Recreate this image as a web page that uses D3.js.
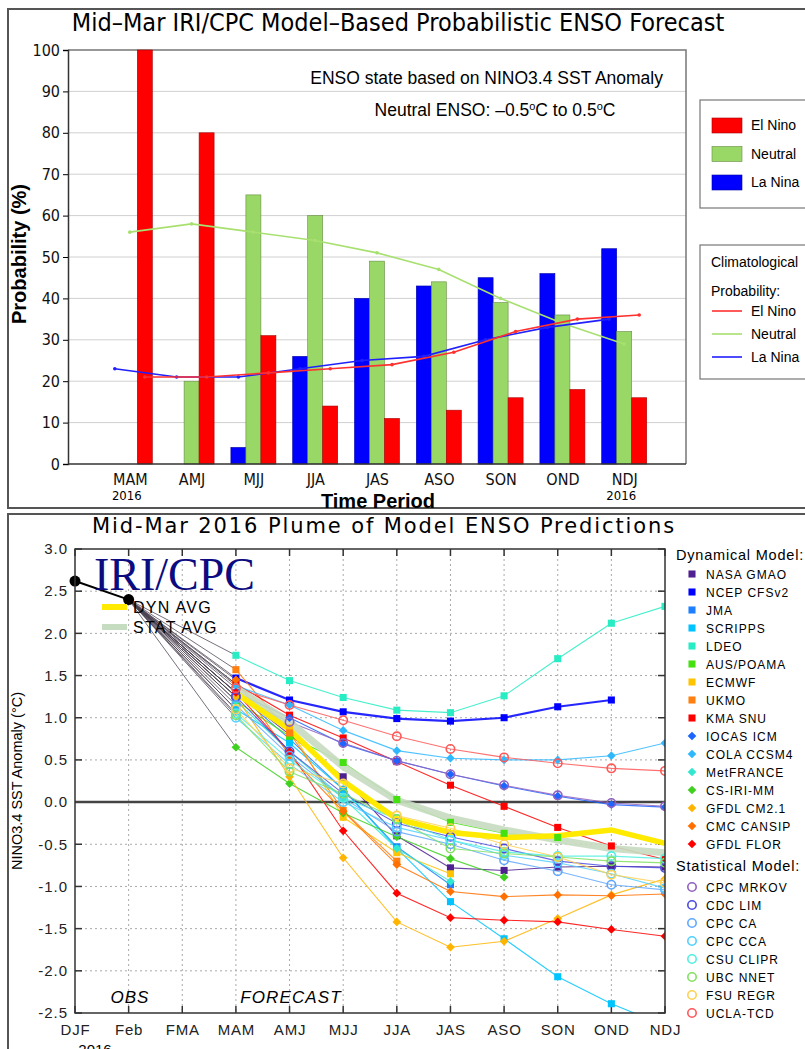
<!DOCTYPE html>
<html>
<head>
<meta charset="utf-8">
<script src="https://cdn.jsdelivr.net/npm/d3@7"></script>
<style>
body { margin: 0; background: #fff; }
svg { display: block; }
</style>
</head>
<body>
<div id="chart"></div>
<script>
// ---------- top panel: probabilistic forecast ----------
var periods = ["MAM", "AMJ", "MJJ", "JJA", "JAS", "ASO", "SON", "OND", "NDJ"];
var elNino  = [100, 80, 31, 14, 11, 13, 16, 18, 16];
var neutral = [0, 20, 65, 60, 49, 44, 39, 36, 32];
var laNina  = [0, 0, 4, 26, 40, 43, 45, 46, 52];
var climElNino  = [21, 21, 22, 23, 24, 27, 32, 35, 36];
var climNeutral = [56, 58, 56, 54, 51, 47, 40, 34, 29];
var climLaNina  = [23, 21, 21, 23, 25, 26, 30, 33, 35];
var probTicks = [0, 10, 20, 30, 40, 50, 60, 70, 80, 90, 100];

// ---------- bottom panel: plume ----------
var seasons = ["DJF", "Feb", "FMA", "MAM", "AMJ", "MJJ", "JJA", "JAS", "ASO", "SON", "OND", "NDJ"];
var anomTicks = [-2.5, -2.0, -1.5, -1.0, -0.5, 0.0, 0.5, 1.0, 1.5, 2.0, 2.5, 3.0];
var obsValues = [2.62, 2.40];          // DJF, Feb
var dynAvg  = [1.29, 0.86, 0.25, -0.20, -0.36, -0.42, -0.40, -0.33, -0.49];
var statAvg = [1.35, 0.95, 0.42, 0.02, -0.19, -0.33, -0.45, -0.55, -0.60];

// dynamical models, values from MAM onward
var nasaGmao   = [1.30, 0.80, 0.30, -0.40, -0.78, -0.81, -0.77, -0.76, -0.77];
var ncepCfsv2  = [1.47, 1.21, 1.07, 0.99, 0.96, 1.00, 1.13, 1.21];
var jma        = [1.30, 0.75, 0.15, -0.53, -0.98];
var scripps    = [1.10, 0.70, 0.15, -0.55, -1.18, -1.62, -2.07, -2.39, -2.65];
var ldeo       = [1.74, 1.44, 1.24, 1.09, 1.06, 1.26, 1.70, 2.12, 2.32];
var ausPoama   = [1.20, 0.78, 0.47, 0.03, -0.24, -0.37, -0.42];
var ecmwf      = [1.40, 0.88, -0.18, -0.60, -0.85];
var ukmo       = [1.57, 0.82, -0.10, -0.70];
var kmaSnu     = [1.40, 1.03, 0.76, 0.48, 0.20, -0.05, -0.30, -0.52, -0.68];
var iocasIcm   = [1.30, 1.00, 0.69, 0.49, 0.33, 0.19, 0.07, -0.03, -0.06];
var colaCcsm4  = [1.38, 1.15, 0.85, 0.61, 0.52, 0.50, 0.50, 0.55, 0.70];
var metFrance  = [1.20, 0.60, 0.05, -0.55, -0.94];
var csIriMm    = [0.65, 0.22, -0.13, -0.41, -0.67, -0.89];
var gfdlCm21   = [1.25, 0.30, -0.66, -1.42, -1.72, -1.65, -1.38, -1.10, -0.91];
var cmcCansip  = [1.45, 0.55, -0.11, -0.74, -1.06, -1.12, -1.10, -1.11, -1.09];
var gfdlFlor   = [1.30, 0.60, -0.34, -1.08, -1.37, -1.40, -1.42, -1.51, -1.59];
// statistical models
var cpcMrkov   = [1.25, 0.95, 0.70, 0.49, 0.33, 0.20, 0.08, -0.01, -0.05];
var cdcLim     = [1.25, 0.60, 0.10, -0.25, -0.41, -0.55, -0.70, -0.76, -0.78];
var cpcCa      = [1.15, 0.55, 0.05, -0.35, -0.50, -0.69, -0.82, -0.98, -1.04];
var cpcCca     = [1.00, 0.45, 0.00, -0.30, -0.45, -0.63, -0.72, -0.85, -1.02];
var csuClipr   = [1.05, 0.50, 0.05, -0.20, -0.45, -0.59, -0.64, -0.64, -0.67];
var ubcNnet    = [1.03, 0.36, 0.10, -0.20, -0.55, -0.61, -0.65, -0.70, -0.72];
var fsuRegr    = [1.10, 0.40, 0.22, -0.16, -0.31, -0.50, -0.65, -0.86, -0.96];
var uclaTcd    = [1.35, 1.15, 0.97, 0.78, 0.63, 0.53, 0.46, 0.40, 0.37];

var dynModels = [
    {name: "NASA GMAO",  values: nasaGmao,  color: "#4f2090", shape: "square"},
    {name: "NCEP CFSv2", values: ncepCfsv2, color: "#0000ff", shape: "square", width: 2.2},
    {name: "JMA",        values: jma,       color: "#1e80ff", shape: "square"},
    {name: "SCRIPPS",    values: scripps,   color: "#00c4ff", shape: "square"},
    {name: "LDEO",       values: ldeo,      color: "#28ecc4", shape: "square"},
    {name: "AUS/POAMA",  values: ausPoama,  color: "#44e010", shape: "square"},
    {name: "ECMWF",      values: ecmwf,     color: "#ffc400", shape: "square"},
    {name: "UKMO",       values: ukmo,      color: "#ff7f10", shape: "square"},
    {name: "KMA SNU",    values: kmaSnu,    color: "#ff0000", shape: "square"},
    {name: "IOCAS ICM",  values: iocasIcm,  color: "#1e64ff", shape: "diamond"},
    {name: "COLA CCSM4", values: colaCcsm4, color: "#30b8ff", shape: "diamond"},
    {name: "MetFRANCE",  values: metFrance, color: "#30e8d0", shape: "diamond"},
    {name: "CS-IRI-MM",  values: csIriMm,   color: "#40d020", shape: "diamond"},
    {name: "GFDL CM2.1", values: gfdlCm21,  color: "#ffb400", shape: "diamond"},
    {name: "CMC CANSIP", values: cmcCansip, color: "#ff7000", shape: "diamond"},
    {name: "GFDL FLOR",  values: gfdlFlor,  color: "#ff0000", shape: "diamond"}
];
var statModels = [
    {name: "CPC MRKOV", values: cpcMrkov, color: "#9060c0", shape: "circle"},
    {name: "CDC LIM",   values: cdcLim,   color: "#4c4ce0", shape: "circle"},
    {name: "CPC CA",    values: cpcCa,    color: "#60a8ff", shape: "circle"},
    {name: "CPC CCA",   values: cpcCca,   color: "#50d0ff", shape: "circle"},
    {name: "CSU CLIPR", values: csuClipr, color: "#50f0e0", shape: "circle"},
    {name: "UBC NNET",  values: ubcNnet,  color: "#80e060", shape: "circle"},
    {name: "FSU REGR",  values: fsuRegr,  color: "#ffd050", shape: "circle"},
    {name: "UCLA-TCD",  values: uclaTcd,  color: "#ff5858", shape: "circle"}
];

var svg = d3.select("#chart").append("svg")
    .attr("width", 805)
    .attr("height", 1049);

var narrow = "'Liberation Sans Narrow', 'DejaVu Sans Condensed', sans-serif";
var sans = "'Liberation Sans', Arial, sans-serif";

// ================= TOP PANEL =================
svg.append("rect")
    .attr("x", 8).attr("y", 9).attr("width", 810).attr("height", 499)
    .attr("fill", "none").attr("stroke", "#555").attr("stroke-width", 2);

svg.append("text")
    .attr("x", 398).attr("y", 31)
    .attr("text-anchor", "middle")
    .style("font-family", narrow).style("font-size", "25px")
    .text("Mid\u2013Mar IRI/CPC Model\u2013Based Probabilistic ENSO Forecast");

var x = d3.scaleLinear().domain([-1, 9]).range([68, 686]);
var y = d3.scaleLinear().domain([0, 100]).range([464, 50]);
var barW = 15;

var topG = svg.append("g");

// gridlines
topG.append("g").selectAll("line")
    .data(probTicks.slice(1, -1))
    .enter().append("line")
    .attr("x1", 68).attr("x2", 686)
    .attr("y1", function(d) { return y(d); })
    .attr("y2", function(d) { return y(d); })
    .attr("stroke", "#d0d0d0").attr("stroke-width", 1);

// frame top / right
topG.append("path")
    .attr("d", "M68," + y(100) + "H686V" + y(0))
    .attr("fill", "none").attr("stroke", "#777").attr("stroke-width", 1.5);

var series = [
    {vals: laNina,  color: "#0000ff", off: -1},
    {vals: neutral, color: "#99d866", off: 0},
    {vals: elNino,  color: "#ff0000", off: 1}
];
series.forEach(function(s) {
    topG.append("g").selectAll("rect")
        .data(s.vals)
        .enter().append("rect")
        .attr("x", function(d, i) { return x(i) + s.off * barW - barW / 2; })
        .attr("y", function(d) { return y(d); })
        .attr("width", barW)
        .attr("height", function(d) { return y(0) - y(d); })
        .attr("fill", s.color)
        .attr("stroke", d3.color(s.color).darker(1.2))
        .attr("stroke-width", 0.6);
});

// climatology lines
var clim = [
    {vals: climNeutral, color: "#a8e070", off: 0},
    {vals: climLaNina,  color: "#2020ff", off: -1},
    {vals: climElNino,  color: "#ff3030", off: 1}
];
clim.forEach(function(c) {
    var line = d3.line()
        .x(function(d, i) { return x(i) + c.off * barW; })
        .y(function(d) { return y(d); });
    topG.append("path")
        .datum(c.vals)
        .attr("d", line)
        .attr("fill", "none").attr("stroke", c.color).attr("stroke-width", 1.6);
    topG.append("g").selectAll("circle")
        .data(c.vals)
        .enter().append("circle")
        .attr("cx", function(d, i) { return x(i) + c.off * barW; })
        .attr("cy", function(d) { return y(d); })
        .attr("r", 1.8)
        .attr("fill", c.color);
});

// axes
var yAxisTop = topG.append("g")
    .attr("transform", "translate(68,0)")
    .call(d3.axisLeft(y).tickValues(probTicks).tickSize(5).tickPadding(3));
yAxisTop.selectAll("text").style("font-family", narrow).style("font-size", "16px").attr("fill", "#111");
yAxisTop.select(".domain").attr("stroke", "#333").attr("stroke-width", 1.5);

var xAxisTop = topG.append("g")
    .attr("transform", "translate(0," + y(0) + ")")
    .call(d3.axisBottom(x).tickValues(d3.range(periods.length))
        .tickFormat(function(i) { return periods[i]; })
        .tickSize(0).tickPadding(10));
xAxisTop.selectAll("text").style("font-family", narrow).style("font-size", "16px").attr("fill", "#111");
xAxisTop.select(".domain").attr("stroke", "#333").attr("stroke-width", 1.5).attr("d", "M68,0H686");

[0, periods.length - 1].forEach(function(i) {
    topG.append("text")
        .attr("x", x(i) - 3).attr("y", 500)
        .attr("text-anchor", "middle")
        .style("font-family", narrow).style("font-size", "13px")
        .text("2016");
});

topG.append("text")
    .attr("x", 378).attr("y", 508)
    .attr("text-anchor", "middle")
    .style("font-family", sans).style("font-size", "20px").style("font-weight", "bold")
    .text("Time Period");

topG.append("text")
    .attr("transform", "translate(26,254) rotate(-90)")
    .attr("text-anchor", "middle")
    .style("font-family", sans).style("font-size", "20px").style("font-weight", "bold")
    .text("Probability (%)");

topG.append("text")
    .attr("x", 663).attr("y", 84)
    .attr("text-anchor", "end")
    .style("font-family", sans).style("font-size", "17.5px")
    .text("ENSO state based on NINO3.4 SST Anomaly");

var neutralTxt = topG.append("text")
    .attr("x", 495).attr("y", 116)
    .attr("text-anchor", "middle")
    .style("font-family", sans).style("font-size", "17.5px");
neutralTxt.append("tspan").text("Neutral ENSO: \u20130.5");
neutralTxt.append("tspan").attr("dy", -6).style("font-size", "11px").text("o");
neutralTxt.append("tspan").attr("dy", 6).text("C to 0.5");
neutralTxt.append("tspan").attr("dy", -6).style("font-size", "11px").text("o");
neutralTxt.append("tspan").attr("dy", 6).text("C");

// legend 1
var leg1 = topG.append("g");
leg1.append("rect").attr("x", 700).attr("y", 100).attr("width", 120).attr("height", 108)
    .attr("fill", "#fff").attr("stroke", "#777").attr("stroke-width", 1.2);
var legItems = [
    {label: "El Nino", color: "#ff0000"},
    {label: "Neutral", color: "#99d866"},
    {label: "La Nina", color: "#0000ff"}
];
legItems.forEach(function(d, i) {
    var cy = 125 + i * 28.5;
    leg1.append("rect").attr("x", 712).attr("y", cy - 7).attr("width", 30).attr("height", 15)
        .attr("fill", d.color).attr("stroke", d3.color(d.color).darker(1.2)).attr("stroke-width", 0.6);
    leg1.append("text").attr("x", 751).attr("y", cy + 5)
        .style("font-family", sans).style("font-size", "14px").text(d.label);
});

// legend 2
var leg2 = topG.append("g");
leg2.append("rect").attr("x", 700).attr("y", 245).attr("width", 120).attr("height", 134)
    .attr("fill", "#fff").attr("stroke", "#777").attr("stroke-width", 1.2);
leg2.append("text").attr("x", 711).attr("y", 267)
    .style("font-family", sans).style("font-size", "14px").text("Climatological");
leg2.append("text").attr("x", 711).attr("y", 296)
    .style("font-family", sans).style("font-size", "14px").text("Probability:");
var climLeg = [
    {label: "El Nino", color: "#ff3030"},
    {label: "Neutral", color: "#a8e070"},
    {label: "La Nina", color: "#2020ff"}
];
climLeg.forEach(function(d, i) {
    var cy = 311 + i * 23;
    leg2.append("line").attr("x1", 712).attr("x2", 742).attr("y1", cy).attr("y2", cy)
        .attr("stroke", d.color).attr("stroke-width", 1.6);
    leg2.append("text").attr("x", 751).attr("y", cy + 5)
        .style("font-family", sans).style("font-size", "14px").text(d.label);
});

// ================= BOTTOM PANEL =================
var bot = svg.append("g");
bot.append("rect")
    .attr("x", 8).attr("y", 514).attr("width", 810).attr("height", 560)
    .attr("fill", "none").attr("stroke", "#555").attr("stroke-width", 2);

bot.append("text")
    .attr("x", 384).attr("y", 533)
    .attr("text-anchor", "middle")
    .style("font-family", "'DejaVu Sans', sans-serif").style("font-size", "21px")
    .style("letter-spacing", "1.9px")
    .text("Mid-Mar 2016 Plume of Model ENSO Predictions");

var px = d3.scaleLinear().domain([0, seasons.length - 1]).range([75, 665]);
var py = d3.scaleLinear().domain([-2.5, 3.0]).range([1013, 549]);

// grid
bot.append("g").selectAll("line")
    .data(d3.range(1, seasons.length - 1))
    .enter().append("line")
    .attr("x1", function(d) { return px(d); }).attr("x2", function(d) { return px(d); })
    .attr("y1", py(3.0)).attr("y2", py(-2.5))
    .attr("stroke", "#aaa").attr("stroke-dasharray", "2,3");
bot.append("g").selectAll("line")
    .data(anomTicks.slice(1, -1))
    .enter().append("line")
    .attr("x1", px(0)).attr("x2", px(11))
    .attr("y1", function(d) { return py(d); }).attr("y2", function(d) { return py(d); })
    .attr("stroke", "#aaa").attr("stroke-dasharray", "2,3");

// ticks inside on all sides
var tickG = bot.append("g").attr("stroke", "#333").attr("stroke-width", 1.5);
anomTicks.forEach(function(v) {
    tickG.append("line").attr("x1", px(0)).attr("x2", px(0) + 7).attr("y1", py(v)).attr("y2", py(v));
    tickG.append("line").attr("x1", px(11)).attr("x2", px(11) - 7).attr("y1", py(v)).attr("y2", py(v));
});
d3.range(seasons.length).forEach(function(i) {
    tickG.append("line").attr("x1", px(i)).attr("x2", px(i)).attr("y1", py(3.0)).attr("y2", py(3.0) + 7);
    tickG.append("line").attr("x1", px(i)).attr("x2", px(i)).attr("y1", py(-2.5)).attr("y2", py(-2.5) - 7);
});

// zero line
bot.append("line")
    .attr("x1", px(0)).attr("x2", px(11)).attr("y1", py(0)).attr("y2", py(0))
    .attr("stroke", "#444").attr("stroke-width", 2.5);

// clip
svg.append("clipPath").attr("id", "plotClip")
    .append("rect").attr("x", px(0)).attr("y", py(3.0))
    .attr("width", px(11) - px(0)).attr("height", py(-2.5) - py(3.0));

var plot = bot.append("g").attr("clip-path", "url(#plotClip)");
var firstFc = 3;   // MAM index
var obsEnd = 1;    // Feb index

var fcLine = d3.line()
    .x(function(d, i) { return px(firstFc + i); })
    .y(function(d) { return py(d); });

var allModels = dynModels.concat(statModels);

// grey connectors from last obs to first forecast
plot.append("g").selectAll("line")
    .data(allModels)
    .enter().append("line")
    .attr("x1", px(obsEnd)).attr("y1", py(obsValues[obsEnd]))
    .attr("x2", px(firstFc)).attr("y2", function(d) { return py(d.values[0]); })
    .attr("stroke", "#4a4050").attr("stroke-opacity", 0.75).attr("stroke-width", 1);

// model lines
plot.append("g").selectAll("path")
    .data(allModels)
    .enter().append("path")
    .attr("d", function(d) { return fcLine(d.values); })
    .attr("fill", "none")
    .attr("stroke", function(d) { return d.color; })
    .attr("stroke-opacity", 0.85)
    .attr("stroke-width", function(d) { return d.width || 1.1; });

// averages
plot.append("path").attr("d", fcLine(statAvg))
    .attr("fill", "none").attr("stroke", "#c6dcc0").attr("stroke-width", 7).attr("stroke-opacity", 0.9);
plot.append("path").attr("d", fcLine(dynAvg))
    .attr("fill", "none").attr("stroke", "#ffea00").attr("stroke-width", 5.5);

// markers
function drawMarker(g, shape, color, cx, cy) {
    if (shape === "circle") {
        g.append("circle").attr("cx", cx).attr("cy", cy).attr("r", 4.2)
            .attr("fill", "none").attr("stroke", color).attr("stroke-width", 1.6);
    } else if (shape === "diamond") {
        g.append("path").attr("d", d3.symbol().type(d3.symbolSquare).size(38)())
            .attr("transform", "translate(" + cx + "," + cy + ") rotate(45)")
            .attr("fill", color);
    } else {
        g.append("path").attr("d", d3.symbol().type(d3.symbolSquare).size(50)())
            .attr("transform", "translate(" + cx + "," + cy + ")")
            .attr("fill", color);
    }
}
var markG = plot.append("g");
allModels.forEach(function(m) {
    m.values.forEach(function(v, i) {
        drawMarker(markG, m.shape, m.color, px(firstFc + i), py(v));
    });
});

// observations
var obsLine = d3.line()
    .x(function(d, i) { return px(i); })
    .y(function(d) { return py(d); });
bot.append("path").attr("d", obsLine(obsValues))
    .attr("fill", "none").attr("stroke", "#000").attr("stroke-width", 2);
bot.append("g").selectAll("circle")
    .data(obsValues)
    .enter().append("circle")
    .attr("cx", function(d, i) { return px(i); })
    .attr("cy", function(d) { return py(d); })
    .attr("r", 5.5).attr("fill", "#000");

// frame
bot.append("rect")
    .attr("x", px(0)).attr("y", py(3.0))
    .attr("width", px(11) - px(0)).attr("height", py(-2.5) - py(3.0))
    .attr("fill", "none").attr("stroke", "#333").attr("stroke-width", 1.5);

// axis labels
var yAxisBot = bot.append("g")
    .attr("transform", "translate(" + px(0) + ",0)")
    .call(d3.axisLeft(py).tickValues(anomTicks).tickFormat(d3.format(".1f")).tickSize(0).tickPadding(7));
yAxisBot.select(".domain").remove();
yAxisBot.selectAll("text")
    .style("font-family", sans).style("font-size", "15px").style("letter-spacing", "1px")
    .attr("fill", "#222")
    .text(function(d) { return d3.format(".1f")(d).replace("\u2212", "-"); });

var xAxisBot = bot.append("g")
    .attr("transform", "translate(0," + py(-2.5) + ")")
    .call(d3.axisBottom(px).tickValues(d3.range(seasons.length))
        .tickFormat(function(i) { return seasons[i]; }).tickSize(0).tickPadding(11));
xAxisBot.select(".domain").remove();
xAxisBot.selectAll("text")
    .style("font-family", sans).style("font-size", "15px").style("letter-spacing", "0.8px")
    .attr("fill", "#222");

bot.append("text")
    .attr("x", 95).attr("y", 1055)
    .attr("text-anchor", "middle")
    .style("font-family", sans).style("font-size", "15px")
    .text("2016");

bot.append("text")
    .attr("transform", "translate(22,781) rotate(-90)")
    .attr("text-anchor", "middle")
    .style("font-family", sans).style("font-size", "14.5px")
    .text("NINO3.4 SST Anomaly (\u00B0C)");

bot.append("text")
    .attr("x", 130).attr("y", 1003)
    .attr("text-anchor", "middle")
    .style("font-family", sans).style("font-size", "17px").style("font-style", "italic")
    .style("letter-spacing", "1px")
    .text("OBS");
bot.append("text")
    .attr("x", 291).attr("y", 1003)
    .attr("text-anchor", "middle")
    .style("font-family", sans).style("font-size", "17px").style("font-style", "italic")
    .style("letter-spacing", "1.1px")
    .text("FORECAST");

bot.append("text")
    .attr("x", 94).attr("y", 590)
    .style("font-family", "'Liberation Serif', 'Times New Roman', serif")
    .style("font-size", "46px").attr("fill", "#0c0c80")
    .text("IRI/CPC");

// avg legend
var avgLeg = [
    {label: "DYN AVG", color: "#ffea00", y: 607},
    {label: "STAT AVG", color: "#c6dcc0", y: 627}
];
avgLeg.forEach(function(d) {
    bot.append("line").attr("x1", 102).attr("x2", 127).attr("y1", d.y).attr("y2", d.y)
        .attr("stroke", d.color).attr("stroke-width", 6);
    bot.append("text").attr("x", 133).attr("y", d.y + 6)
        .style("font-family", sans).style("font-size", "16px").style("letter-spacing", "1.3px")
        .text(d.label);
});

// right legend
var rleg = bot.append("g");
rleg.append("text").attr("x", 676).attr("y", 560)
    .style("font-family", sans).style("font-size", "14.5px").style("letter-spacing", "0.8px")
    .text("Dynamical Model:");
dynModels.forEach(function(m, i) {
    var cy = 574 + i * 18;
    drawMarker(rleg, m.shape, m.color, 692, cy);
    rleg.append("text").attr("x", 706).attr("y", cy + 4.5)
        .style("font-family", sans).style("font-size", "12px").style("letter-spacing", "1px")
        .text(m.name);
});
rleg.append("text").attr("x", 676).attr("y", 871)
    .style("font-family", sans).style("font-size", "14.5px").style("letter-spacing", "0.8px")
    .text("Statistical Model:");
statModels.forEach(function(m, i) {
    var cy = 887 + i * 18;
    drawMarker(rleg, m.shape, m.color, 692, cy);
    rleg.append("text").attr("x", 706).attr("y", cy + 4.5)
        .style("font-family", sans).style("font-size", "12px").style("letter-spacing", "1px")
        .text(m.name);
});
</script>
</body>
</html>
